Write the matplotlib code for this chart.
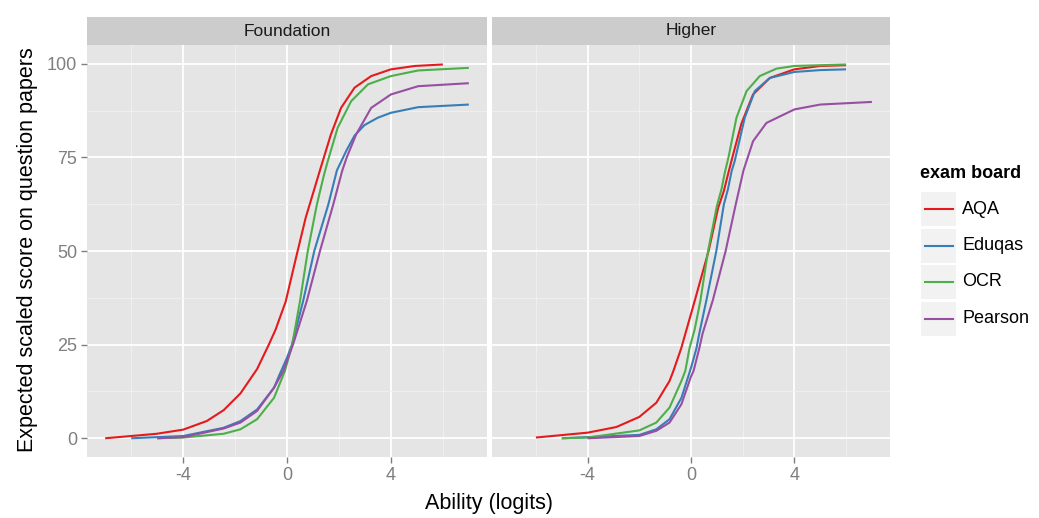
import numpy as np
import matplotlib.pyplot as plt
from matplotlib.ticker import FixedLocator

plt.rcParams['font.family'] = ['Liberation Sans', 'DejaVu Sans']
plt.rcParams['axes.unicode_minus'] = False

boards = ['AQA', 'Eduqas', 'OCR', 'Pearson']
colors = ['#E41A1C', '#377EB8', '#4DAF4A', '#984EA3']

# values, (ability, expected score)
foundation = {
    'AQA': ([-7, -5.02, -4, -3.09, -2.44, -1.79, -1.15, -0.7, -0.44, -0.05, 0.34, 0.72,
             1.05, 1.31, 1.69, 2.08, 2.6, 3.24, 4, 4.92, 6],
            [0, 1.2, 2.3, 4.6, 7.5, 12, 18.5, 25, 29, 36.5, 48, 58.9,
             66.5, 72.5, 81.1, 88.2, 93.6, 96.7, 98.5, 99.4, 99.8]),
    'Eduqas': ([-6, -4, -2.44, -1.79, -1.15, -0.5, -0.3, 0, 0.19, 0.62, 1.05, 1.59,
                1.92, 2.3, 2.6, 2.98, 3.5, 4, 5.05, 7],
               [0, 0.6, 2.8, 4.6, 7.7, 13.5, 16.8, 21.5, 25, 36.6, 50, 62.4,
                71.5, 77, 80.8, 83.6, 85.6, 86.9, 88.4, 89.1]),
    'OCR': ([-5, -4, -2.44, -1.79, -1.15, -0.5, -0.08, 0.2, 0.5, 0.8, 1.15, 1.43,
             1.57, 1.95, 2.47, 3.12, 4, 5.05, 7],
            [0, 0.2, 1.2, 2.4, 5.1, 10.8, 18, 25, 36.6, 50, 62.4, 70.5,
             74, 82.9, 90, 94.5, 96.7, 98.2, 98.9]),
    'Pearson': ([-5, -4, -2.44, -1.79, -1.15, -0.5, -0.14, 0.23, 0.76, 1.27, 1.78, 2.12,
                 2.3, 2.66, 3.24, 4, 5.05, 7],
                [0, 0.3, 2.6, 4.2, 7.3, 13.5, 18, 25, 36.6, 50, 62.4, 71.3,
                 75, 81.1, 88.2, 91.8, 94, 94.8]),
}

higher = {
    'AQA': ([-6, -4, -2.89, -2, -1.34, -0.83, -0.68, -0.38, 0.14, 0.68, 1.05, 1.27,
             1.45, 1.62, 1.95, 2.4, 3.05, 4, 5, 6],
            [0.2, 1.5, 3, 5.7, 9.5, 15.3, 18, 24, 36.6, 50, 61.5, 66,
             71, 75.5, 84, 91.8, 96.2, 98.5, 99.4, 99.6]),
    'Eduqas': ([-5, -2, -1.34, -0.83, -0.37, 0, 0.21, 0.34, 0.6, 0.98, 1.27, 1.43,
                1.57, 1.69, 2.08, 2.47, 3.05, 4, 5, 6],
               [0, 0.9, 2.4, 5.1, 10.8, 18.8, 24, 28.6, 37, 50, 62.4, 66.5,
                71.3, 74, 85.6, 92.7, 96.2, 97.8, 98.3, 98.5]),
    'OCR': ([-5, -4, -2, -1.34, -0.83, -0.37, -0.22, -0.06, 0.14, 0.36, 0.66, 1.0,
             1.18, 1.31, 1.45, 1.76, 2.15, 2.66, 3.31, 4, 6],
            [0, 0.2, 2.1, 4.2, 8.2, 15.3, 18, 24, 29, 36.6, 50, 62,
             66.5, 71, 75, 85.6, 92.7, 96.7, 98.7, 99.4, 99.8]),
    'Pearson': ([-4, -2, -1.34, -0.83, -0.37, 0, 0.1, 0.32, 0.45, 0.85, 1.34, 1.73,
                 2.03, 2.4, 2.92, 4, 5, 7],
                [0, 0.6, 2, 4.2, 9.1, 16.5, 18, 24, 28, 37, 50, 62.4,
                 71.5, 79.3, 84.2, 87.8, 89.1, 89.8]),
}

panels = [('Foundation', foundation), ('Higher', higher)]

W, H = 1039, 518
fig = plt.figure(figsize=(W / 100, H / 100), dpi=100)


def px_axes(x0, y0, x1, y1):
    return fig.add_axes([x0 / W, 1 - y1 / H, (x1 - x0) / W, (y1 - y0) / H])


panel_px = [(87, 487), (492, 890)]
for i, ((title, data), (x0, x1)) in enumerate(zip(panels, panel_px)):
    ax = px_axes(x0, 45, x1, 457)
    ax.set_facecolor('#E5E5E5')
    for b, c in zip(boards, colors):
        xs, ys = data[b]
        ax.plot(xs, ys, color=c, lw=1.5, solid_capstyle='butt',
                solid_joinstyle='round')
    ax.set_xlim(-7.7, 7.7)
    ax.set_ylim(-5, 105)
    ax.xaxis.set_major_locator(FixedLocator([-4, 0, 4]))
    ax.xaxis.set_minor_locator(FixedLocator([-6, -2, 2, 6]))
    ax.yaxis.set_major_locator(FixedLocator([0, 25, 50, 75, 100]))
    ax.yaxis.set_minor_locator(FixedLocator([12.5, 37.5, 62.5, 87.5]))
    ax.grid(which='major', color='white', lw=1.3)
    ax.grid(which='minor', color='#F2F2F2', lw=0.6)
    ax.set_axisbelow(True)
    for s in ax.spines.values():
        s.set_visible(False)
    ax.tick_params(which='major', length=4, width=1, color='#7F7F7F',
                   labelcolor='#7F7F7F', labelsize=13, pad=3)
    ax.tick_params(which='minor', length=0)
    if i == 1:
        ax.tick_params(axis='y', which='major', length=0, labelleft=False)

    strip = px_axes(x0, 17, x1, 45)
    strip.set_facecolor('#CCCCCC')
    strip.set_xticks([])
    strip.set_yticks([])
    for s in strip.spines.values():
        s.set_visible(False)
    strip.text(0.5, 0.5, title, ha='center', va='center', fontsize=12.5,
               color='#1A1A1A', transform=strip.transAxes)

fig.text(28 / W, 1 - 250 / H, 'Expected scaled score on question papers',
         rotation=90, ha='center', va='center', fontsize=15.5)
fig.text(489 / W, 1 - 504 / H, 'Ability (logits)', ha='center', va='center',
         fontsize=15.5)

# legend
fig.text(920 / W, 1 - 174 / H, 'exam board', ha='left', va='center',
         fontsize=13, fontweight='bold')
for k, (b, c) in enumerate(zip(boards, colors)):
    yc = 209 + k * 36.5
    key = px_axes(921, yc - 17, 956, yc + 17)
    key.set_facecolor('#F2F2F2')
    key.set_xticks([])
    key.set_yticks([])
    for s in key.spines.values():
        s.set_visible(False)
    key.plot([0.1, 0.9], [0.5, 0.5], color=c, lw=1.5)
    key.set_xlim(0, 1)
    key.set_ylim(0, 1)
    fig.text(962 / W, 1 - yc / H, b, ha='left', va='center', fontsize=13)

fig.savefig('out.png', dpi=100)
